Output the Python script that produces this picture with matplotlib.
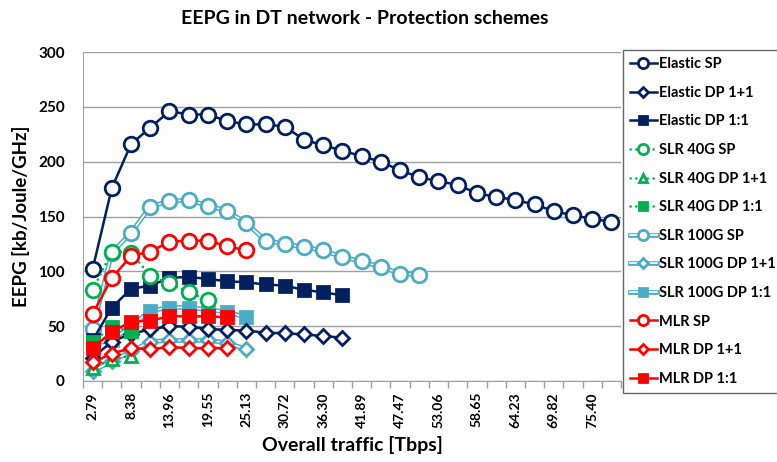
import numpy as np
import matplotlib.pyplot as plt

plt.rcParams['font.family'] = ['Lato', 'DejaVu Sans']
plt.rcParams['font.weight'] = 'bold'
plt.rcParams['axes.labelweight'] = 'bold'

# overall traffic per load step [Tbps]
traffic = ['2.79', '5.59', '8.38', '11.17', '13.96', '16.76', '19.55', '22.34',
           '25.13', '27.93', '30.72', '33.51', '36.30', '39.10', '41.89', '44.68',
           '47.47', '50.27', '53.06', '55.85', '58.65', '61.44', '64.23', '67.02',
           '69.82', '72.61', '75.40', '78.19']

# EEPG [kb/Joule/GHz], one list per scheme, starting at the first load step
elastic_sp = [102, 176, 216, 231, 246, 243, 243, 237, 234, 234, 232, 220, 215, 210,
              205, 200, 192, 186, 182, 179, 171, 168, 165, 161, 155, 151, 148, 145]
elastic_dp_1p1 = [21, 36, 43, 47, 50, 49.5, 47.5, 46.5, 46, 44, 43.5, 42.5, 41, 39.5]
elastic_dp_1to1 = [37, 67, 84, 87, 94, 95, 93, 91, 90, 88, 87, 83, 81, 78]
slr40_sp = [83, 118, 117, 96, 89, 81, 74]
slr40_dp_1p1 = [12, 20, 23]
slr40_dp_1to1 = [36, 49, 46]
slr100_sp = [47, 117, 135, 159, 164, 165, 160, 155, 144, 128, 125, 122, 119, 113,
             109, 104, 98, 97]
slr100_dp_1p1 = [9, 18, 27, 36, 37, 37, 37, 35, 29]
slr100_dp_1to1 = [34, 37, 50, 64, 67, 67, 65, 63, 58]
mlr_sp = [61, 94, 114, 118, 127, 128, 128, 123, 119]
mlr_dp_1p1 = [17, 25, 30, 29, 31, 30, 30, 30]
mlr_dp_1to1 = [30, 45, 54, 55, 59, 59, 59, 58]

navy = '#002060'
green = '#00B050'
sky = '#4BACC6'
red = '#FF0000'
dots = (0, (0.1, 2.2))

fig = plt.figure(figsize=(7.77, 4.62), dpi=100)
ax = fig.add_axes([83 / 777, 1 - 381 / 462, (621 - 83) / 777, (381 - 52) / 462])


def plain(vals, color, marker, ms, filled, ls='-', z=3):
    x = np.arange(len(vals))
    ln, = ax.plot(x, vals, ls=ls, color=color, lw=1.8, marker=marker, ms=ms,
                  mfc=color if filled else 'white', mec=color, mew=2.0, zorder=z,
                  dash_capstyle='round')
    return ln


def double(vals, marker, ms, filled, z=2):
    # light blue line with a white core, markers drawn on top
    x = np.arange(len(vals))
    outer, = ax.plot(x, vals, color=sky, lw=3.4, zorder=z)
    inner, = ax.plot(x, vals, color='white', lw=1.2, zorder=z)
    mk, = ax.plot(x, vals, ls='none', marker=marker, ms=ms,
                  mfc=sky if filled else 'white', mec=sky, mew=2.0, zorder=z)
    return (outer, inner, mk)


h = []
h.append(double(slr100_sp, 'o', 10.5, False))
h.append(double(slr100_dp_1p1, 'D', 7, False))
h.append(double(slr100_dp_1to1, 's', 8, True))
h.append(plain(elastic_sp, navy, 'o', 10.5, False))
h.append(plain(elastic_dp_1p1, navy, 'D', 7, False))
h.append(plain(elastic_dp_1to1, navy, 's', 9, True))
h.append(plain(slr40_sp, green, 'o', 10.5, False, ls=dots, z=4))
h.append(plain(slr40_dp_1p1, green, '^', 8, False, ls=dots, z=4))
h.append(plain(slr40_dp_1to1, green, 's', 9, True, ls=dots, z=4))
h.append(plain(mlr_sp, red, 'o', 10.5, False, z=5))
h.append(plain(mlr_dp_1p1, red, 'D', 7, False, z=5))
h.append(plain(mlr_dp_1to1, red, 's', 8, True, z=5))

handles = h[3:9] + h[0:3] + h[9:]
labels = ['Elastic SP', 'Elastic DP 1+1', 'Elastic DP 1:1',
          'SLR 40G SP', 'SLR 40G DP 1+1', 'SLR 40G DP 1:1',
          'SLR 100G SP', 'SLR 100G DP 1+1', 'SLR 100G DP 1:1',
          'MLR SP', 'MLR DP 1+1', 'MLR DP 1:1']

ax.set_xlim(-0.5, len(traffic) - 0.5)
ax.set_xticks(np.arange(0, len(traffic), 2))
ax.set_xticklabels(traffic[::2], fontweight='bold')
ax.set_xticks(np.arange(-0.5, len(traffic), 1), minor=True)
ax.tick_params(axis='x', which='major', length=0, pad=8, labelsize=10, labelrotation=90)
ax.tick_params(axis='x', which='minor', length=5, color='#A0A0A0', width=1)

ax.set_ylim(0, 300)
ax.set_yticks(np.arange(0, 301, 50))
ax.set_yticklabels([str(v) for v in range(0, 301, 50)], fontweight='bold')
ax.tick_params(axis='y', length=0, pad=13, labelsize=11)
ax.grid(axis='y', color='#A0A0A0', lw=1)
ax.set_axisbelow(True)
for s in ['top', 'right']:
    ax.spines[s].set_visible(False)
for s in ['left', 'bottom']:
    ax.spines[s].set_color('#A0A0A0')

ax.set_ylabel('EEPG [kb/Joule/GHz]', fontsize=13.5, fontweight='bold', labelpad=6)
ax.set_xlabel('Overall traffic [Tbps]', fontsize=14, fontweight='bold', labelpad=6)
fig.text(0.47, 0.96, 'EEPG in DT network - Protection schemes',
         ha='center', va='center', fontsize=14, weight='bold')

leg = fig.legend(handles, labels, loc='upper left',
                 bbox_to_anchor=(623 / 777, 1 - 50 / 462),
                 frameon=True, fancybox=False, edgecolor='#404040',
                 prop={'size': 10.5, 'weight': 'bold'}, labelspacing=1.0,
                 handlelength=1.8, handletextpad=0.2, borderpad=0.5,
                 markerscale=0.7, borderaxespad=0)
leg.get_frame().set_linewidth(1)

fig.savefig('out.png', dpi=100)
